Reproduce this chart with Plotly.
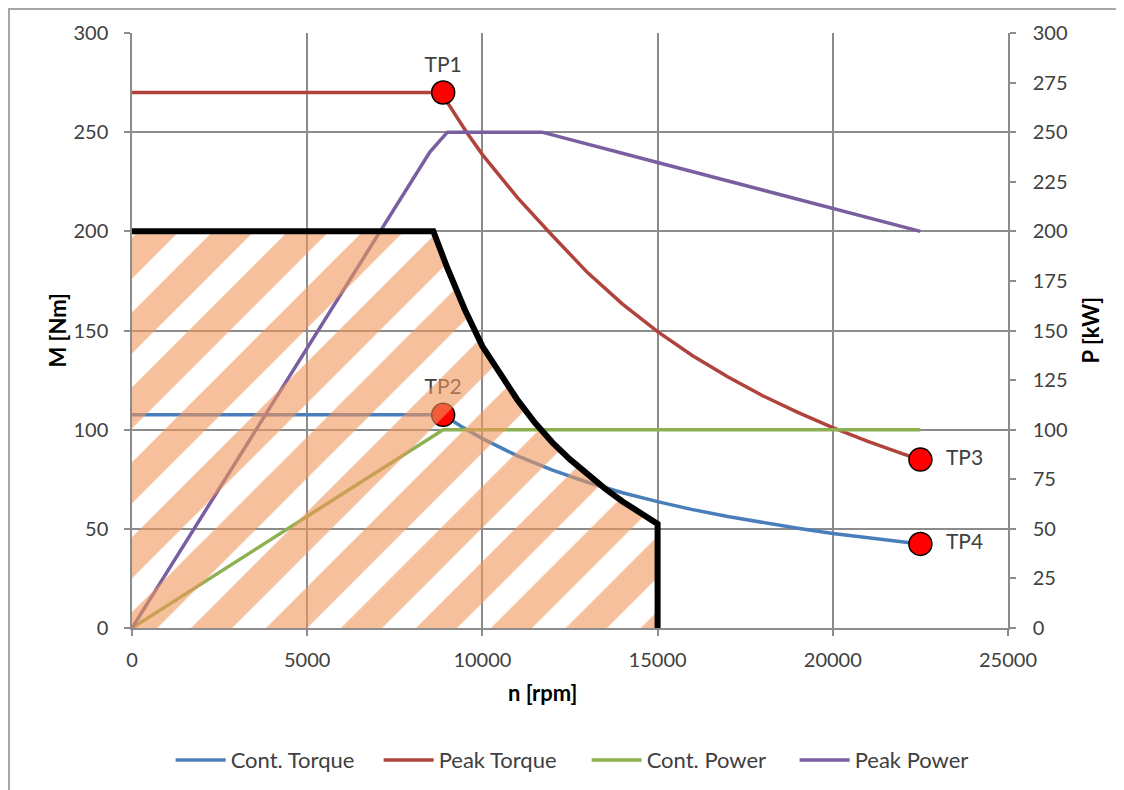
import plotly.graph_objects as go

# ---------------- data ----------------
rpm_peak_torque = [0, 8880, 9000, 9550, 10000, 11000, 12000, 13000, 14000, 15000,
                   16000, 17000, 18000, 19000, 20000, 21000, 22000, 22500]
peak_torque = [270, 270, 265, 250, 238.7, 217.0, 197.8, 179.2, 163.3, 149.4,
               137.3, 126.7, 117.1, 108.7, 101.0, 94.1, 87.8, 84.9]

rpm_cont_torque = [0, 8880, 9400, 10000, 11000, 12000, 13000, 14000, 15000, 16000,
                   17000, 18000, 19000, 20000, 21000, 22000, 22500]
cont_torque = [107.5, 107.5, 101.6, 95.5, 86.8, 79.6, 73.5, 68.2, 63.7, 59.7,
               56.2, 53.1, 50.3, 47.7, 45.5, 43.4, 42.4]

rpm_cont_power = [0, 8880, 22500]
cont_power = [0, 100, 100]

rpm_peak_power = [0, 8500, 9000, 11700, 15000, 20000, 22500]
peak_power = [0, 240, 250, 250, 234.7, 211.6, 200]

rpm_limit = [0, 8600, 9000, 9500, 10000, 10500, 11000, 11500, 12000, 12500,
             13000, 13500, 14000, 14500, 15000, 15000]
torque_limit = [200, 200, 181.5, 160.5, 142, 127.8, 115, 103.5, 93.5, 85,
                77.5, 70.3, 63.8, 57.8, 52.5, 0]

tp_labels = ["TP1", "TP2", "TP3", "TP4"]
tp_rpm = [8880, 8880, 22500, 22500]
tp_torque = [270, 107.5, 84.9, 42.4]
tp_textpos = ["top center", "top center", "middle right", "middle right"]
tp_template = ["%{text}", "%{text}", "\u00a0\u00a0%{text}", "\u00a0\u00a0%{text}"]

x_ticks = [0, 5000, 10000, 15000, 20000, 25000]
y_ticks = [0, 50, 100, 150, 200, 250, 300]
y2_ticks = [0, 25, 50, 75, 100, 125, 150, 175, 200, 225, 250, 275, 300]

# ---------------- styles ----------------
FONT = "Lato"
TXT = "#404040"
GRID = "#8c8c8c"
C_BLUE = "#4a7ebb"
C_RED = "#b0443d"
C_GREEN = "#8db150"
C_PURPLE = "#7a5fa0"

fig = go.Figure()

fig.add_trace(go.Scatter(x=rpm_cont_torque, y=cont_torque, name="Cont. Torque",
                         mode="lines", line=dict(color=C_BLUE, width=3.5),
                         yaxis="y"))
fig.add_trace(go.Scatter(x=rpm_peak_torque, y=peak_torque, name="Peak Torque",
                         mode="lines", line=dict(color=C_RED, width=3.5),
                         yaxis="y"))
fig.add_trace(go.Scatter(x=tp_rpm, y=tp_torque, mode="markers+text", text=tp_labels,
                         texttemplate=tp_template,
                         textposition=tp_textpos, showlegend=False,
                         textfont=dict(family=FONT, size=21, color=TXT),
                         marker=dict(size=23, color="#ff0000", line=dict(color="#000000", width=1.5)),
                         yaxis="y", cliponaxis=False))
fig.add_trace(go.Scatter(x=rpm_cont_power, y=cont_power, name="Cont. Power",
                         mode="lines", line=dict(color=C_GREEN, width=3.5),
                         yaxis="y2"))
fig.add_trace(go.Scatter(x=rpm_peak_power, y=peak_power, name="Peak Power",
                         mode="lines", line=dict(color=C_PURPLE, width=3.5),
                         yaxis="y2"))
# hatched operating region (drawn over the curves)
fig.add_trace(go.Scatter(x=rpm_limit + [0], y=torque_limit + [0], mode="lines",
                         fill="toself", fillcolor="rgba(0,0,0,0)",
                         fillpattern=dict(shape="/", size=53, solidity=0.55,
                                          fgcolor="rgb(240,150,90)", fgopacity=0.6,
                                          bgcolor="rgba(0,0,0,0)"),
                         line=dict(width=0, color="rgba(0,0,0,0)"),
                         showlegend=False, hoverinfo="skip", yaxis="y3"))
fig.add_trace(go.Scatter(x=rpm_limit, y=torque_limit, mode="lines",
                         line=dict(color="#000000", width=6),
                         showlegend=False, yaxis="y3"))

axis_common = dict(showline=True, linecolor=GRID, linewidth=1.5,
                   ticks="outside", ticklen=6, tickcolor=GRID, tickwidth=1.5,
                   tickfont=dict(family=FONT, size=20, color=TXT),
                   zeroline=False)

fig.update_layout(
    width=1116, height=782,
    margin=dict(l=124, r=116, t=25, b=162, autoexpand=False),
    paper_bgcolor="white", plot_bgcolor="white",
    font=dict(family=FONT, size=20, color=TXT),
    xaxis=dict(range=[0, 25000], tickvals=x_ticks, tickformat="d", showgrid=True,
               gridcolor=GRID, gridwidth=1.5, ticklabelstandoff=7, **axis_common),
    yaxis=dict(range=[0, 300], tickvals=y_ticks, showgrid=True, gridcolor=GRID,
               gridwidth=1.5, ticklabelstandoff=12, **axis_common),
    yaxis2=dict(range=[0, 300], tickvals=y2_ticks, overlaying="y", side="right",
                showgrid=False, ticklabelstandoff=13, **axis_common),
    yaxis3=dict(range=[0, 300], overlaying="y", visible=False, showgrid=False),
    showlegend=True,
    legend=dict(orientation="h", x=0.519, xanchor="center", y=-0.222, yanchor="middle",
                itemwidth=50, entrywidth=143, entrywidthmode="pixels",
                font=dict(family=FONT, size=22, color=TXT), bgcolor="rgba(0,0,0,0)"),
    annotations=[
        dict(text="<b>M [Nm]</b>", x=-0.0856, y=0.5, xref="paper", yref="paper",
             xanchor="center", yanchor="middle",
             textangle=-90, showarrow=False, font=dict(family=FONT, size=22, color="#000000")),
        dict(text="<b>P [kW]</b>", x=1.0947, y=0.5, xref="paper", yref="paper",
             xanchor="center", yanchor="middle",
             textangle=-90, showarrow=False, font=dict(family=FONT, size=22, color="#000000")),
        dict(text="<b>n [rpm]</b>", x=0.4692, y=-0.1092, xref="paper", yref="paper",
             xanchor="center", yanchor="middle",
             showarrow=False, font=dict(family=FONT, size=22, color="#000000")),
    ],
    shapes=[dict(type="rect", xref="paper", yref="paper", x0=-0.1404, x1=1.3,
                 y0=-0.5, y1=1.0403, line=dict(color="#a6a6a6", width=2),
                 fillcolor="rgba(0,0,0,0)", layer="below")],
)

fig.write_html("out.html")
